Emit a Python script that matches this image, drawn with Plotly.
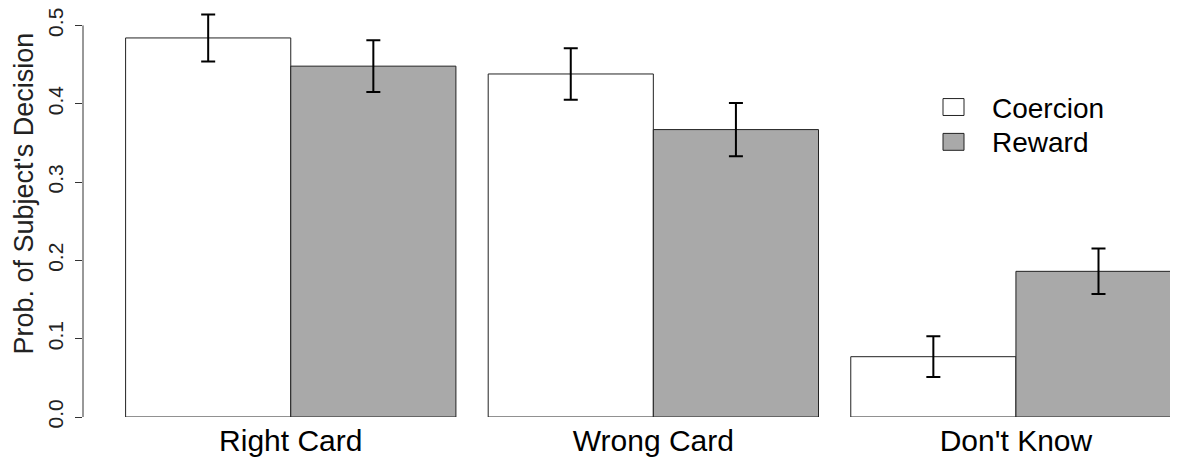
import plotly.graph_objects as go

categories = ["Right Card", "Wrong Card", "Don't Know"]
coercion = [0.484, 0.438, 0.077]
coercion_err = [0.030, 0.033, 0.026]
reward = [0.448, 0.367, 0.186]
reward_err = [0.033, 0.034, 0.029]
series_names = ["Coercion", "Reward"]
y_ticks = [0.0, 0.1, 0.2, 0.3, 0.4, 0.5]
y_title = "Prob. of Subject's Decision"

FONT = "Liberation Sans, Arial, sans-serif"
OFF = 8  # default page body margin
W, H = 1178 - OFF, 465 - OFF
L, B = 83 - OFF, 48
plot_w = W - L
plot_h = H - B

fig = go.Figure()
fills = ["#FFFFFF", "#A9A9A9"]
for name, vals, errs, fill in zip(series_names, [coercion, reward], [coercion_err, reward_err], fills):
    fig.add_trace(go.Bar(
        name=name, x=categories, y=vals,
        marker=dict(color=fill, line=dict(color="#222222", width=1)),
        error_y=dict(type="data", array=errs, visible=True, color="black", thickness=2, width=7),
        showlegend=False,
    ))

# y axis line only spanning the tick range (R style)
fig.add_shape(type="line", xref="paper", yref="y", x0=0, x1=0, y0=y_ticks[0], y1=y_ticks[-1],
              line=dict(color="#333333", width=1))

# manual legend, R style (positions in screen pixels)
def px_x(p):
    return (p - OFF - L) / plot_w

def px_y(p):
    return 1 - (p - OFF) / plot_h

legend_rows = [(97, 114), (132, 149)]
for (top, bot), name, fill in zip(legend_rows, series_names, fills):
    fig.add_shape(type="rect", xref="paper", yref="paper",
                  x0=px_x(943), x1=px_x(964), y0=px_y(bot), y1=px_y(top),
                  fillcolor=fill, line=dict(color="#222222", width=1))
    fig.add_annotation(xref="paper", yref="paper", x=px_x(990), y=px_y((top + bot) / 2 + 1),
                       text=name, showarrow=False, xanchor="left", yanchor="middle",
                       font=dict(family=FONT, size=28, color="black"))

fig.add_annotation(xref="paper", yref="paper", x=0, y=px_y(192.5), xshift=-L,
                   text=y_title, textangle=-90, showarrow=False,
                   xanchor="left", yanchor="middle", borderpad=0,
                   font=dict(family=FONT, size=27, color="#222222"))

fig.update_layout(
    width=W, height=H,
    margin=dict(l=L, r=0, t=0, b=B, pad=0),
    paper_bgcolor="white", plot_bgcolor="white",
    barmode="group", bargap=0.089, bargroupgap=0,
    xaxis=dict(type="category", range=[-0.573, 2.447], showgrid=False, showline=False,
               zeroline=False, ticks="", ticklabelstandoff=3,
               tickfont=dict(family=FONT, size=30, color="black")),
    yaxis=dict(range=[0, (417 - OFF) / 787], tickvals=y_ticks, tickformat=".1f", showgrid=False,
               showline=False, zeroline=False, ticks="outside", ticklen=7, tickcolor="#333333",
               tickangle=-90, ticklabelstandoff=4, ticklabeloverflow="allow",
               tickfont=dict(family=FONT, size=21, color="#222222")),
)

fig.write_html("out.html")
